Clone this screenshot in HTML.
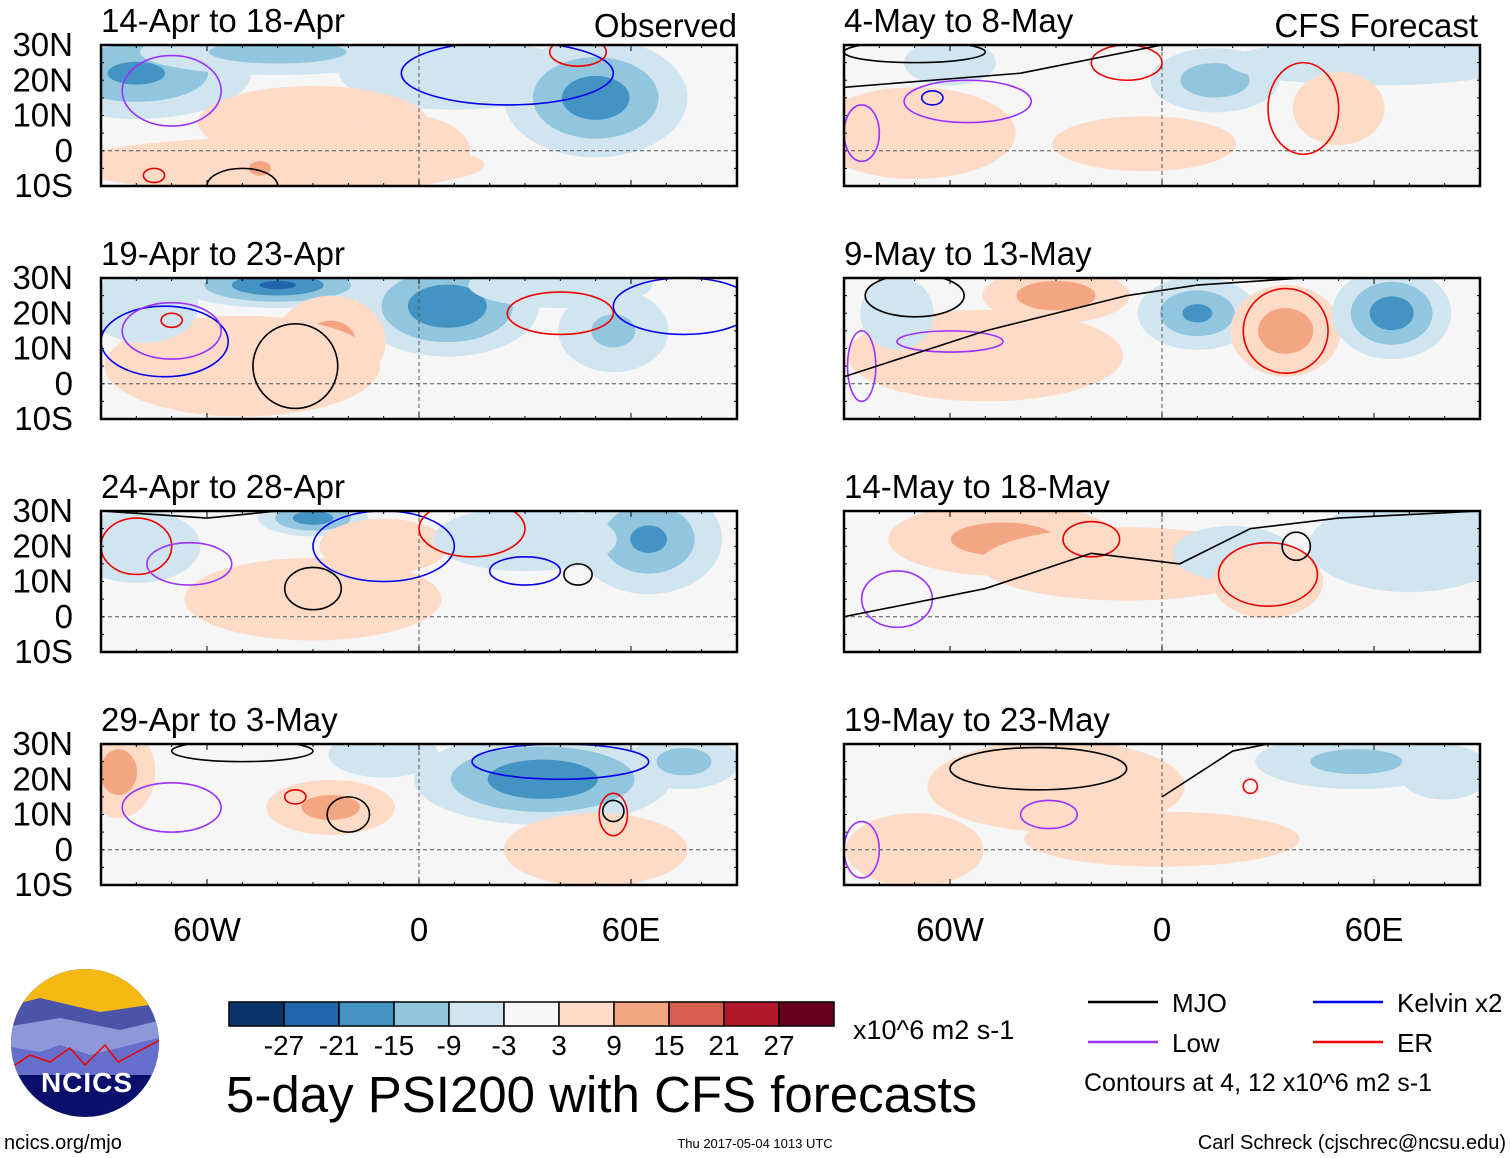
<!DOCTYPE html>
<html><head><meta charset="utf-8">
<style>
body{margin:0;background:#fff;font-family:"Liberation Sans",sans-serif;}
#root{position:relative;width:1510px;height:1158px;overflow:hidden;}
</style></head>
<body>
<div id="root">
<svg id="svg" width="1510" height="1158" viewBox="0 0 1510 1158" xmlns="http://www.w3.org/2000/svg" font-family="Liberation Sans, sans-serif"></svg>
</div>
<script>
const panelTitles=["14-Apr to 18-Apr","19-Apr to 23-Apr","24-Apr to 28-Apr","29-Apr to 3-May","4-May to 8-May","9-May to 13-May","14-May to 18-May","19-May to 23-May"];
const latTicks=[30,20,10,0,-10];
const latLabels=["30N","20N","10N","0","10S"];
const lonTicks=[-60,0,60];
const lonLabels=["60W","0","60E"];
const levels=[-27,-21,-15,-9,-3,3,9,15,21,27];
const levelLabels=["-27","-21","-15","-9","-3","3","9","15","21","27"];
// anomaly blobs per panel: [lon, lat, rxDeg, ryDeg, peakValue]
const blobs0=[[-80,22,25,10,-16],[-40,28,30,5,-12],[10,22,25,8,-7],[50,15,20,13,-19],[-30,8,25,8,6],[-40,-4,45,6,5],[-45,-5,6,4,10],[-5,0,15,8,4]];
const blobs1=[[-40,28,22,5,-22],[8,22,20,11,-21],[-25,12,12,10,11],[-50,5,30,11,5],[55,15,12,9,-10],[-78,22,12,8,-6],[40,28,20,5,-6]];
const blobs2=[[-30,28,12,4,-19],[65,22,16,12,-16],[-10,20,14,6,9],[-30,5,28,9,5],[-80,20,14,8,-8],[30,22,20,7,-6]];
const blobs3=[[35,20,28,10,-21],[-85,22,8,10,12],[-25,12,14,6,11],[50,0,20,8,7],[75,25,12,6,-12],[-10,27,12,5,-7]];
const blobs4=[[15,20,14,7,-13],[60,25,32,5,-9],[-70,5,22,10,5],[50,12,10,8,6],[-60,25,10,5,-6],[-5,2,20,6,4]];
const blobs5=[[-30,25,16,6,13],[10,20,13,8,-16],[35,15,12,10,12],[65,20,13,10,-19],[-50,8,30,10,5],[-75,20,8,8,-8]];
const blobs6=[[-45,22,25,8,11],[-10,15,32,8,4],[20,18,13,6,-9],[70,20,22,10,-7],[30,10,12,8,8]];
const blobs7=[[-30,18,28,10,5],[0,3,30,6,5],[55,25,22,6,-11],[80,22,10,6,-6],[-70,0,15,8,4]];
const panelBlobs=[blobs0,blobs1,blobs2,blobs3,blobs4,blobs5,blobs6,blobs7];
// contour ellipses per panel: [lon, lat, rxDeg, ryDeg, type]
const conts=[
 [[-70,17,14,10,"low"],[-50,-10,10,5,"mjo"],[25,22,30,9,"kelvin"],[45,28,8,4,"er"],[-75,-7,3,2,"er"]],
 [[-72,12,18,10,"kelvin"],[-70,15,14,8,"low"],[-35,5,12,12,"mjo"],[40,20,15,6,"er"],[75,22,20,8,"kelvin"],[-70,18,3,2,"er"]],
 [[-80,20,10,8,"er"],[-65,15,12,6,"low"],[-30,8,8,6,"mjo"],[-10,20,20,10,"kelvin"],[30,13,10,4,"kelvin"],[45,12,4,3,"mjo"],[15,25,15,8,"er"]],
 [[-50,28,20,3,"mjo"],[-70,12,14,7,"low"],[-20,10,6,5,"mjo"],[-35,15,3,2,"er"],[40,25,25,5,"kelvin"],[55,10,4,6,"er"],[55,11,3,3,"mjo"]],
 [[-70,28,20,3,"mjo"],[-55,14,18,6,"low"],[-65,15,3,2,"kelvin"],[40,12,10,13,"er"],[-10,25,10,5,"er"],[-85,5,5,8,"low"]],
 [[-70,25,14,6,"mjo"],[-60,12,15,3,"low"],[35,15,12,12,"er"],[-85,5,4,10,"low"]],
 [[-20,22,8,5,"er"],[30,12,14,9,"er"],[38,20,4,4,"mjo"],[-75,5,10,8,"low"]],
 [[-35,23,25,6,"mjo"],[-32,10,8,4,"low"],[25,18,2,2,"er"],[-85,0,5,8,"low"]]
];
// MJO long lines per panel: [lon,lat] pairs
const mjoLines=[
 [],[],
 [[-90,30],[-60,28],[-40,30]],
 [],
 [[-90,18],[-40,22],[0,30]],
 [[-90,2],[-50,15],[-10,25],[10,28],[40,30]],
 [[-90,0],[-50,8],[-20,18],[5,15],[25,25],[50,28],[90,30]],
 [[0,15],[20,28],[30,30]]
];
const colors=["#0b3569","#2166ac","#4393c3","#92c5de","#d1e5f0","#f7f7f7","#fddbc7","#f4a582","#d6604d","#b2182b","#67001f"];
const ctype={mjo:"#000",low:"#9b30ff",kelvin:"#0000ee",er:"#ee0000"};
const NS="http://www.w3.org/2000/svg";
const svg=document.getElementById('svg');
function el(tag,attrs,parent){const e=document.createElementNS(NS,tag);for(const k in attrs)e.setAttribute(k,attrs[k]);(parent||svg).appendChild(e);return e;}
const lefts=[101,844], tops=[45,278,511,744], PW=636, PH=141;
function colorFor(v){let i=0;while(i<levels.length&&v>levels[i])i++;return colors[i];}
for(let p=0;p<8;p++){
  const col=p<4?0:1,row=p%4,x0=lefts[col],y0=tops[row];
  const xs=lon=>x0+(lon+90)/180*PW, ys=lat=>y0+(30-lat)/40*PH;
  const g=el('g',{});
  
  
  const cp=el('clipPath',{id:'cp'+p},g);el('rect',{x:x0,y:y0,width:PW,height:PH},cp);
  const inner=el('g',{'clip-path':'url(#cp'+p+')'},g);
  el('rect',{x:x0,y:y0,width:PW,height:PH,fill:'#f6f6f6'},inner);
  panelBlobs[p].forEach(b=>{
    const v=Math.abs(b[4]),s=Math.sign(b[4]);
    for(const t of [3,9,15,21,27]){ if(v<=t)break;
      const f=1.3*(1-(t-3)/v);
      const e=el('ellipse',{cx:xs(b[0]),cy:ys(b[1]),rx:b[2]*PW/180*f,ry:b[3]*PH/40*f,fill:colorFor(s*(t+1))},inner);
      
      
    }
  });
  el('line',{x1:x0,x2:x0+PW,y1:ys(0),y2:ys(0),stroke:'#555','stroke-dasharray':'4,3','stroke-width':1},inner);
  el('line',{x1:xs(0),x2:xs(0),y1:y0,y2:y0+PH,stroke:'#555','stroke-dasharray':'4,3','stroke-width':1},inner);
  conts[p].forEach(c=>{
    const e=el('ellipse',{cx:xs(c[0]),cy:ys(c[1]),rx:c[2]*PW/180,ry:c[3]*PH/40,fill:'none',stroke:ctype[c[4]],'stroke-width':1.6},inner);
    
    
  });
  if(mjoLines[p].length){
    const l=el('polyline',{points:mjoLines[p].map(q=>xs(q[0])+','+ys(q[1])).join(' '),fill:'none',stroke:'#000','stroke-width':1.6},inner);
    
    
  }
  el('rect',{x:x0,y:y0,width:PW,height:PH,fill:'none',stroke:'#000','stroke-width':2.5},g);
  for(let lon=-90;lon<=90;lon+=10){const big=lon%60==0;
    el('line',{x1:xs(lon),x2:xs(lon),y1:y0,y2:y0+(big?6:3),stroke:'#000'},g);
    el('line',{x1:xs(lon),x2:xs(lon),y1:y0+PH,y2:y0+PH-(big?6:3),stroke:'#000'},g);}
  for(let lat=-10;lat<=30;lat+=5){
    el('line',{x1:x0,x2:x0+3,y1:ys(lat),y2:ys(lat),stroke:'#000'},g);
    el('line',{x1:x0+PW,x2:x0+PW-3,y1:ys(lat),y2:ys(lat),stroke:'#000'},g);}
  const t=el('text',{x:x0,y:y0-13,'font-size':33,fill:'#000'},g);t.textContent=panelTitles[p];
  
  
  if(col==0){latTicks.forEach((lat,i)=>{const tt=el('text',{x:73,y:ys(lat)+11,'font-size':33,'text-anchor':'end'},g);tt.textContent=latLabels[i];
    
    });}
  if(row==3){lonTicks.forEach((lon,i)=>{const tt=el('text',{x:xs(lon),y:941,'font-size':33,'text-anchor':'middle'},g);tt.textContent=lonLabels[i];
    
    });}
}
function txt(x,y,s,size,name,anchor){const t=el('text',{x:x,y:y,'font-size':size,'text-anchor':anchor||'start'});t.textContent=s;
  
  return t;}
txt(737,37,"Observed",33,"observed-label","end");
txt(1478,37,"CFS Forecast",33,"forecast-label","end");
// colorbar
colors.forEach((c,i)=>{const r=el('rect',{x:229+i*55,y:1002,width:55,height:24,fill:c,stroke:'#000','stroke-width':1.5});
  
  });
levels.forEach((v,i)=>{txt(284+i*55,1055,levelLabels[i],28,"colorbar-label","middle");});
txt(853,1039,"x10^6 m2 s-1",27,"colorbar-units");
txt(226,1112,"5-day PSI200 with CFS forecasts",51,"main-title");
// legend
[["MJO","#000",1088,1002],["Low","#9b30ff",1088,1042],["Kelvin x2","#0000ee",1313,1002],["ER","#ee0000",1313,1042]].forEach(l=>{
  const ln=el('line',{x1:l[2],x2:l[2]+70,y1:l[3],y2:l[3],stroke:l[1],'stroke-width':2.5});
  
  
  txt(l[2]+84,l[3]+10,l[0],26,"legend-entry");
});
txt(1084,1091,"Contours at 4, 12 x10^6 m2 s-1",25,"contour-note");
txt(4,1149,"ncics.org/mjo",20,"site-url");
txt(755,1148,"Thu 2017-05-04 1013 UTC",13,"timestamp","middle");
txt(1506,1149,"Carl Schreck (cjschrec@ncsu.edu)",20,"author-credit","end");
// logo
const lg=el('g',{});


const lcp=el('clipPath',{id:'lcp'},lg);el('circle',{cx:85,cy:1043,r:74},lcp);
const li=el('g',{'clip-path':'url(#lcp)'},lg);
el('rect',{x:0,y:960,width:170,height:170,fill:'#0a0f6b'},li);
el('rect',{x:0,y:960,width:170,height:52,fill:'#f6b914'},li);
el('polygon',{points:'0,1008 40,998 100,1012 170,1002 170,1040 0,1040',fill:'#4a55a8'},li);
el('polygon',{points:'0,1028 60,1018 120,1030 170,1018 170,1060 0,1060',fill:'#8c98d8'},li);
el('polygon',{points:'0,1045 40,1052 60,1045 90,1055 170,1035 170,1075 0,1075',fill:'#6670cc'},li);
el('polyline',{points:'0,1075 30,1055 50,1062 70,1048 85,1065 105,1045 118,1062 160,1040',fill:'none',stroke:'#e00','stroke-width':1.5},li);
const nt=el('text',{x:87,y:1092,'font-size':28,'font-weight':'bold',fill:'#fff','text-anchor':'middle','letter-spacing':'1'},lg);nt.textContent="NCICS";
</script>
</body></html>
